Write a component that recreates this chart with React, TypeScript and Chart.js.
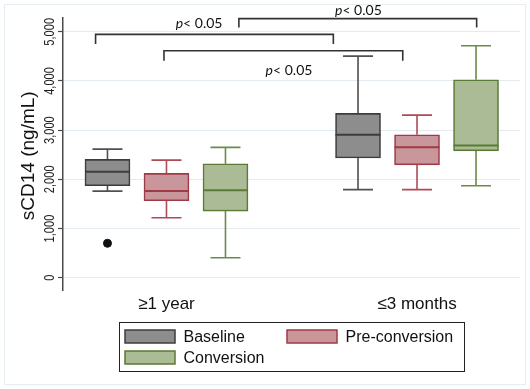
import React, { useEffect, useRef } from "react";
import { Chart, registerables } from "chart.js";

Chart.register(...registerables);

// Groups on the x axis (box centres sit at x = 1 and x = 2)
const groups = ["≥1 year", "≤3 months"];
const seriesNames = ["Baseline", "Pre-conversion", "Conversion"];

// Five-number summaries per group: [min, q1, median, q3, max] (ng/mL)
const baselineStats = [
  [1760, 1870, 2155, 2405, 2615],
  [1790, 2435, 2905, 3340, 4505],
];
const preConversionStats = [
  [1220, 1565, 1765, 2120, 2390],
  [1790, 2295, 2650, 2905, 3305],
];
const conversionStats = [
  [405, 1355, 1780, 2315, 2650],
  [1870, 2580, 2690, 4025, 4715],
];
// Outside values per group
const baselineOutliers = [[700], []];
const preConversionOutliers = [[], []];
const conversionOutliers = [[], []];

const yTicks = [0, 1000, 2000, 3000, 4000, 5000];

// Significance brackets in data units: [xFrom, xTo, yBar, yEnds, xLabel, yLabel]
const brackets = [
  [0.717, 1.666, 4947, 4750, 1.13, 5177],
  [0.99, 1.943, 4614, 4411, 1.489, 4222],
  [1.289, 2.238, 5268, 5089, 1.766, 5441],
];
const bracketLabel = ["p", "< 0.05"];

const allStats = [baselineStats, preConversionStats, conversionStats];
const allOutliers = [baselineOutliers, preConversionOutliers, conversionOutliers];
const seriesOffset = [-0.2355, 0, 0.2355];

const fills = ["#8d8d8d", "#c9979b", "#aabb95"];
const borders = ["#3c3c3c", "#a13a47", "#5b7a36"];
const whiskerColors = ["#505050", "#ad4b57", "#6c8a48"];

const SANS = "'Liberation Sans', Arial, Helvetica, sans-serif";

const boxPlugin = {
  id: "boxParts",
  beforeDatasetsDraw(chart: any) {
    const ctx = chart.ctx;
    const y = chart.scales.y;
    allStats.forEach((stats, s) => {
      const meta = chart.getDatasetMeta(s);
      stats.forEach((st, g) => {
        const bar = meta.data[g];
        if (!bar) return;
        const cx = bar.x;
        const capHalf = bar.width / 3;
        const [mn, q1, , q3, mx] = st;
        ctx.save();
        ctx.strokeStyle = whiskerColors[s];
        ctx.lineWidth = 1.6;
        ctx.beginPath();
        ctx.moveTo(cx, y.getPixelForValue(q3));
        ctx.lineTo(cx, y.getPixelForValue(mx));
        ctx.moveTo(cx - capHalf, y.getPixelForValue(mx));
        ctx.lineTo(cx + capHalf, y.getPixelForValue(mx));
        ctx.moveTo(cx, y.getPixelForValue(q1));
        ctx.lineTo(cx, y.getPixelForValue(mn));
        ctx.moveTo(cx - capHalf, y.getPixelForValue(mn));
        ctx.lineTo(cx + capHalf, y.getPixelForValue(mn));
        ctx.stroke();
        ctx.restore();
      });
    });
  },
  afterDatasetsDraw(chart: any) {
    const ctx = chart.ctx;
    const y = chart.scales.y;
    allStats.forEach((stats, s) => {
      const meta = chart.getDatasetMeta(s);
      stats.forEach((st, g) => {
        const bar = meta.data[g];
        if (!bar) return;
        const half = bar.width / 2;
        const my = y.getPixelForValue(st[2]);
        ctx.save();
        ctx.strokeStyle = borders[s];
        ctx.lineWidth = 2;
        ctx.beginPath();
        ctx.moveTo(bar.x - half, my);
        ctx.lineTo(bar.x + half, my);
        ctx.stroke();
        ctx.restore();
      });
    });
  },
  afterDraw(chart: any) {
    const ctx = chart.ctx;
    const xs = chart.scales.x;
    const ys = chart.scales.y;

    // faint outer frame
    ctx.save();
    ctx.strokeStyle = "#e6edf1";
    ctx.lineWidth = 1;
    ctx.strokeRect(4.5, 4.5, 521, 380);
    ctx.restore();

    // rotated y tick labels
    ctx.save();
    ctx.fillStyle = "#222";
    ctx.font = `15px ${SANS}`;
    ctx.textAlign = "center";
    ctx.textBaseline = "alphabetic";
    yTicks.forEach((v) => {
      const py = ys.getPixelForValue(v);
      ctx.save();
      ctx.translate(53.5, py);
      ctx.rotate(-Math.PI / 2);
      ctx.scale(0.74, 1);
      ctx.fillText(v.toLocaleString("en-US"), 0, 0);
      ctx.restore();
    });
    ctx.restore();

    // y axis title
    ctx.save();
    ctx.fillStyle = "#111";
    ctx.font = `19px ${SANS}`;
    ctx.textAlign = "center";
    ctx.textBaseline = "alphabetic";
    ctx.translate(34, (ys.getPixelForValue(0) + ys.getPixelForValue(5000)) / 2 + 1);
    ctx.rotate(-Math.PI / 2);
    ctx.fillText("sCD14 (ng/mL)", 0, 0);
    ctx.restore();

    // significance brackets
    brackets.forEach(([x1, x2, yb, ye, lx, ly]) => {
      const px1 = xs.getPixelForValue(x1);
      const px2 = xs.getPixelForValue(x2);
      const pyb = ys.getPixelForValue(yb);
      const pye = ys.getPixelForValue(ye);
      ctx.save();
      ctx.strokeStyle = "#333";
      ctx.lineWidth = 1.6;
      ctx.beginPath();
      ctx.moveTo(px1, pye);
      ctx.lineTo(px1, pyb);
      ctx.lineTo(px2, pyb);
      ctx.lineTo(px2, pye);
      ctx.stroke();

      const italic = `italic 14px Lato, 'Open Sans', sans-serif`;
      const regular = `14px Lato, 'Open Sans', sans-serif`;
      ctx.font = italic;
      const w1 = ctx.measureText(bracketLabel[0]).width;
      ctx.font = regular;
      const w2 = ctx.measureText(bracketLabel[1]).width;
      const start = xs.getPixelForValue(lx) - (w1 + w2) / 2;
      const pyl = ys.getPixelForValue(ly);
      ctx.fillStyle = "#111";
      ctx.textAlign = "left";
      ctx.textBaseline = "middle";
      ctx.font = italic;
      ctx.fillText(bracketLabel[0], start, pyl);
      ctx.font = regular;
      ctx.fillText(bracketLabel[1], start + w1, pyl);
      ctx.restore();
    });

    // legend
    ctx.save();
    ctx.fillStyle = "#fff";
    ctx.fillRect(119, 322.5, 345.5, 49);
    ctx.strokeStyle = "#222";
    ctx.lineWidth = 1;
    ctx.strokeRect(119.5, 322.5, 345, 49);
    const entries = [
      { s: 0, x: 125, y: 330 },
      { s: 1, x: 287, y: 330 },
      { s: 2, x: 125, y: 351 },
    ];
    ctx.font = `16px ${SANS}`;
    ctx.textAlign = "left";
    ctx.textBaseline = "middle";
    entries.forEach(({ s, x, y }) => {
      ctx.fillStyle = fills[s];
      ctx.fillRect(x, y, 50, 13);
      ctx.strokeStyle = borders[s];
      ctx.lineWidth = 1.5;
      ctx.strokeRect(x, y, 50, 13);
      ctx.fillStyle = "#111";
      ctx.fillText(seriesNames[s], x + 58.5, y + 7.5);
    });
    ctx.restore();
  },
};

export default function App() {
  const canvasRef = useRef<HTMLCanvasElement | null>(null);

  useEffect(() => {
    if (!canvasRef.current) return;

    const boxSets = allStats.map((stats, s) => ({
      type: "bar" as const,
      label: seriesNames[s],
      data: stats.map((st, g) => ({ x: g + 1 + seriesOffset[s], y: [st[1], st[3]] })),
      backgroundColor: fills[s],
      borderColor: borders[s],
      borderWidth: 1.6,
      borderSkipped: false as const,
      barThickness: 45,
      grouped: false,
      order: 2,
    }));

    const outlierPoints: { x: number; y: number }[] = [];
    allOutliers.forEach((groupsOut, s) =>
      groupsOut.forEach((vals, g) =>
        vals.forEach((v) => outlierPoints.push({ x: g + 1 + seriesOffset[s], y: v }))
      )
    );

    const chart = new Chart(canvasRef.current, {
      type: "bar",
      data: {
        datasets: [
          ...boxSets,
          {
            type: "scatter" as const,
            label: "outside values",
            data: outlierPoints,
            backgroundColor: "#111",
            borderColor: "#111",
            pointRadius: 4,
            order: 1,
          } as any,
        ],
      },
      options: {
        responsive: false,
        maintainAspectRatio: false,
        animation: false,
        layout: { padding: { left: 0, right: 10, top: 18, bottom: 0 } },
        plugins: {
          legend: { display: false },
          tooltip: { enabled: false },
        },
        scales: {
          x: {
            type: "linear",
            min: 0.587,
            max: 2.411,
            offset: false,
            grid: { display: false, drawTicks: false, offset: false },
            border: { display: false },
            afterBuildTicks: (axis: any) => {
              axis.ticks = groups.map((_, i) => ({ value: i + 1 }));
            },
            afterFit: (axis: any) => {
              axis.height = 99;
            },
            ticks: {
              autoSkip: false,
              maxRotation: 0,
              padding: 4,
              color: "#111",
              font: { family: SANS, size: 17 },
              callback: (_v: any, i: number) => groups[i],
            },
          },
          y: {
            type: "linear",
            min: -250,
            max: 5280,
            afterBuildTicks: (axis: any) => {
              axis.ticks = yTicks.map((v) => ({ value: v }));
            },
            afterFit: (axis: any) => {
              axis.width = 63;
            },
            grid: {
              color: "#e3ebf0",
              lineWidth: 1,
              drawTicks: true,
              tickLength: 5,
              tickColor: "#4a4a4a",
              tickWidth: 1.2,
            },
            border: { display: true, color: "#4a4a4a", width: 1.5 },
            ticks: { display: false },
          },
        },
      },
      plugins: [boxPlugin],
    } as any);

    return () => chart.destroy();
  }, []);

  return (
    <div style={{ position: "absolute", left: 0, top: 0, width: 530, height: 389, background: "#fff" }}>
      <canvas ref={canvasRef} width={530} height={389} style={{ width: 530, height: 389 }} />
    </div>
  );
}
